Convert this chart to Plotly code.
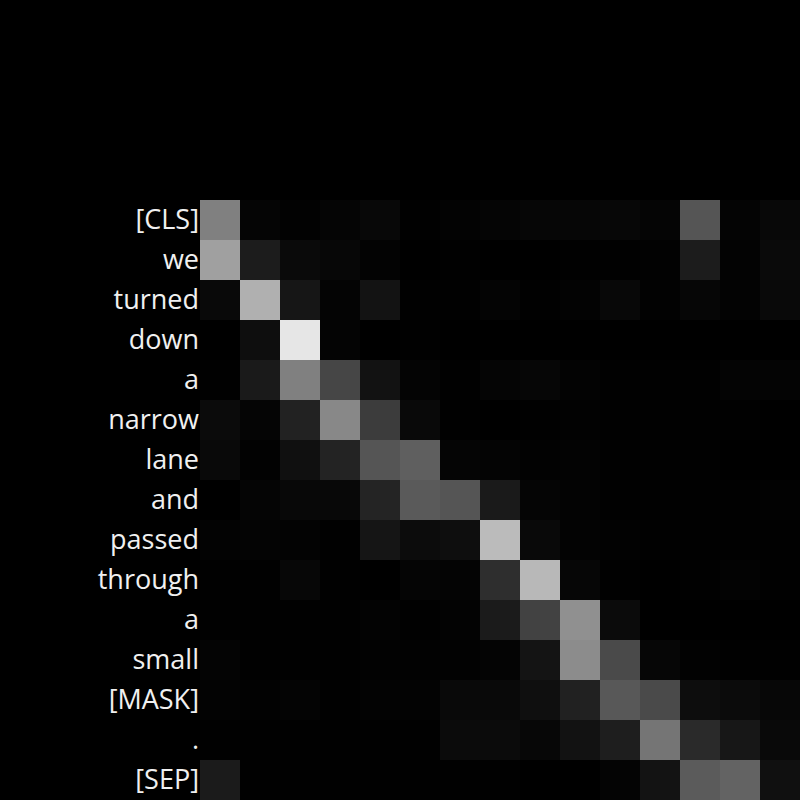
import plotly.graph_objects as go

tokens = ["[CLS]", "we", "turned", "down", "a", "narrow", "lane", "and",
          "passed", "through", "a", "small", "[MASK]", ".", "[SEP]"]

# attention weights (rows = query token, cols = key token)
attn = [
    [0.502, 0.020, 0.008, 0.020, 0.031, 0.004, 0.012, 0.020, 0.024, 0.024, 0.027, 0.020, 0.333, 0.016, 0.031],
    [0.627, 0.110, 0.039, 0.027, 0.012, 0.000, 0.004, 0.000, 0.000, 0.004, 0.004, 0.008, 0.110, 0.012, 0.039],
    [0.035, 0.690, 0.086, 0.016, 0.075, 0.004, 0.004, 0.016, 0.004, 0.012, 0.031, 0.008, 0.024, 0.012, 0.035],
    [0.000, 0.055, 0.902, 0.016, 0.000, 0.004, 0.000, 0.000, 0.000, 0.000, 0.000, 0.000, 0.000, 0.000, 0.000],
    [0.004, 0.102, 0.502, 0.275, 0.071, 0.016, 0.004, 0.020, 0.024, 0.012, 0.004, 0.004, 0.004, 0.016, 0.016],
    [0.043, 0.020, 0.133, 0.533, 0.235, 0.035, 0.004, 0.000, 0.004, 0.008, 0.004, 0.004, 0.004, 0.004, 0.000],
    [0.035, 0.008, 0.063, 0.137, 0.333, 0.373, 0.020, 0.016, 0.008, 0.012, 0.004, 0.004, 0.004, 0.000, 0.000],
    [0.000, 0.020, 0.031, 0.031, 0.141, 0.353, 0.333, 0.102, 0.020, 0.012, 0.004, 0.004, 0.004, 0.004, 0.008],
    [0.012, 0.016, 0.012, 0.004, 0.082, 0.047, 0.055, 0.733, 0.035, 0.012, 0.008, 0.004, 0.004, 0.004, 0.004],
    [0.004, 0.004, 0.027, 0.004, 0.000, 0.020, 0.016, 0.180, 0.722, 0.024, 0.004, 0.000, 0.004, 0.012, 0.004],
    [0.004, 0.004, 0.004, 0.004, 0.012, 0.004, 0.012, 0.106, 0.259, 0.565, 0.043, 0.000, 0.000, 0.000, 0.000],
    [0.016, 0.004, 0.004, 0.004, 0.008, 0.008, 0.008, 0.016, 0.078, 0.549, 0.290, 0.024, 0.008, 0.004, 0.004],
    [0.012, 0.008, 0.016, 0.004, 0.012, 0.012, 0.035, 0.035, 0.059, 0.129, 0.345, 0.290, 0.051, 0.043, 0.027],
    [0.004, 0.004, 0.004, 0.004, 0.004, 0.004, 0.043, 0.043, 0.027, 0.071, 0.118, 0.459, 0.165, 0.090, 0.035],
    [0.106, 0.004, 0.004, 0.004, 0.004, 0.004, 0.004, 0.004, 0.000, 0.000, 0.016, 0.075, 0.357, 0.388, 0.063],
]

fig = go.Figure(go.Heatmap(
    z=attn,
    x=list(range(len(tokens))),
    y=list(range(len(tokens))),
    colorscale=[[0, "black"], [1, "white"]],
    zmin=0, zmax=1,
    showscale=False,
    xgap=0, ygap=0,
))

fig.update_layout(
    width=800, height=800,
    margin=dict(l=200, r=0, t=200, b=0),
    paper_bgcolor="black", plot_bgcolor="black",
    font=dict(family="Open Sans", size=27, color="#f0f0f0"),
)
fig.update_xaxes(showticklabels=False, showgrid=False, zeroline=False, ticks="",
                 range=[-0.5, 14.5])
fig.update_yaxes(tickmode="array", tickvals=list(range(len(tokens))), ticktext=tokens,
                 tickfont=dict(family="Open Sans", size=27, color="#f0f0f0"),
                 autorange=False, range=[14.5, -0.5], showgrid=False, zeroline=False,
                 ticks="", ticklabelstandoff=0)

fig.write_html("out.html")
